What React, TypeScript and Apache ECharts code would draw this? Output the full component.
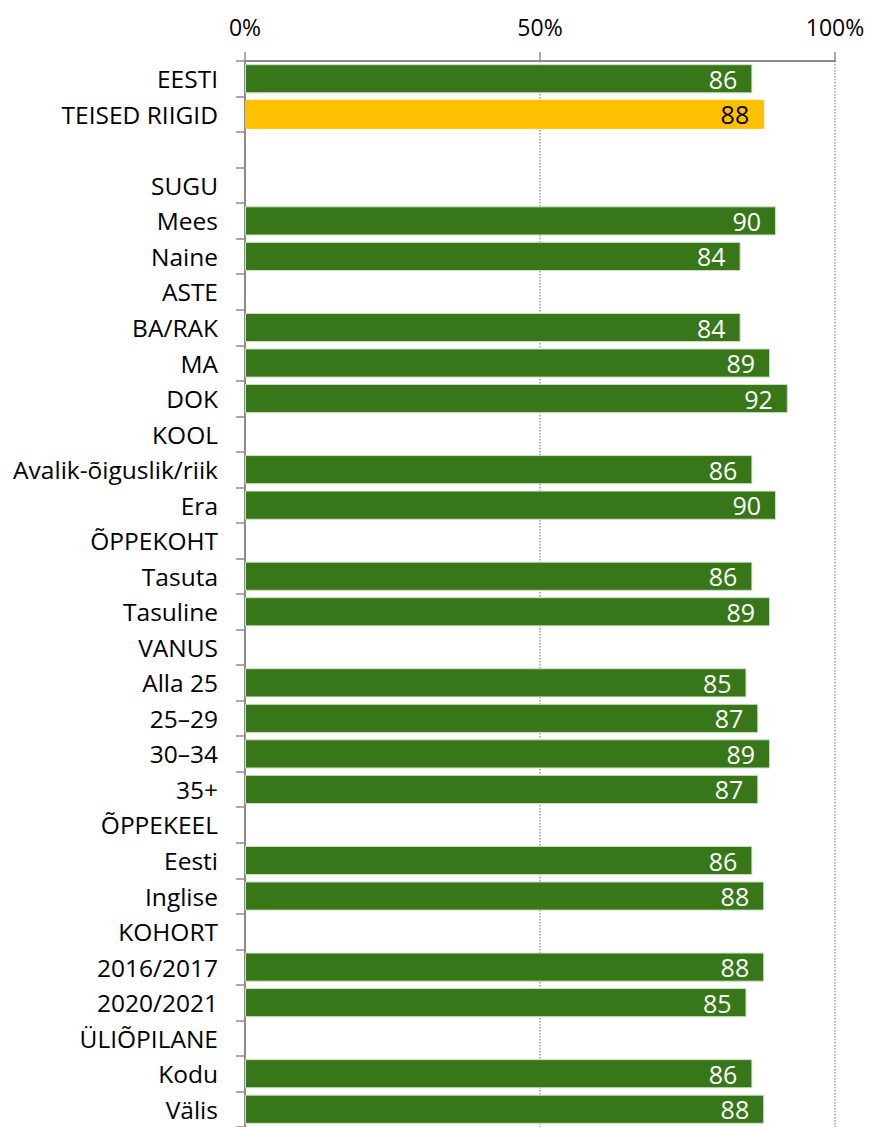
import React, { useEffect, useRef } from "react";
import * as echarts from "echarts";

const categories = [
  "EESTI", "TEISED RIIGID", "", "SUGU", "Mees", "Naine", "ASTE", "BA/RAK", "MA", "DOK",
  "KOOL", "Avalik-õiguslik/riik", "Era", "ÕPPEKOHT", "Tasuta", "Tasuline", "VANUS",
  "Alla 25", "25–29", "30–34", "35+", "ÕPPEKEEL", "Eesti", "Inglise", "KOHORT",
  "2016/2017", "2020/2021", "ÜLIÕPILANE", "Kodu", "Välis",
];
const values: (number | null)[] = [
  86, 88, null, null, 90, 84, null, 84, 89, 92,
  null, 86, 90, null, 86, 89, null,
  85, 87, 89, 87, null, 86, 88, null,
  88, 85, null, 86, 88,
];
const highlighted = ["TEISED RIIGID"];
const xTicks = [0, 50, 100];

const GREEN = "#38761a";
const YELLOW = "#ffc000";
const FONT = "'Open Sans', Lato, sans-serif";

export default function App() {
  const ref = useRef<HTMLDivElement>(null);
  useEffect(() => {
    if (!ref.current) return;
    const chart = echarts.init(ref.current, undefined, { renderer: "svg" });
    const data = values.map((v, i) => {
      const hl = highlighted.includes(categories[i]);
      return {
        value: v,
        itemStyle: {
          color: hl ? YELLOW : GREEN,
          borderColor: hl ? YELLOW : "#cfe0c2",
          borderWidth: 1,
        },
        label: { color: hl ? "#000000" : "#ffffff" },
      };
    });
    chart.setOption({
      animation: false,
      textStyle: { fontFamily: FONT },
      grid: { left: 245, top: 61, width: 590, height: 1068, containLabel: false },
      xAxis: {
        type: "value",
        position: "top",
        min: xTicks[0],
        max: xTicks[xTicks.length - 1],
        interval: 50,
        axisLine: { show: true, lineStyle: { color: "#8c8c8c", width: 2 } },
        axisTick: { show: true, length: 9, lineStyle: { color: "#8c8c8c", width: 1.5 } },
        axisLabel: {
          formatter: "{value}%",
          fontSize: 23,
          color: "#000000",
          fontFamily: FONT,
          margin: 23,
        },
        splitLine: {
          show: true,
          lineStyle: { color: "#9a9a9a", type: "dotted", width: 1.5 },
        },
      },
      yAxis: {
        type: "category",
        data: categories,
        inverse: true,
        axisLine: { show: true, lineStyle: { color: "#8c8c8c", width: 2 } },
        axisTick: { show: true, length: 9, lineStyle: { color: "#8c8c8c", width: 1.5 } },
        axisLabel: {
          fontSize: 24.5,
          color: "#000000",
          fontFamily: FONT,
          margin: 27,
          interval: 0,
        },
        splitLine: { show: false },
      },
      series: [
        {
          type: "bar",
          data,
          barCategoryGap: "18%",
          label: {
            show: true,
            position: "insideRight",
            distance: 15,
            fontSize: 25,
            fontFamily: FONT,
          },
        },
      ],
    });
    return () => chart.dispose();
  }, []);
  return (
    <div
      ref={ref}
      style={{ position: "fixed", left: 0, top: 0, width: 870, height: 1127, background: "#fff" }}
    />
  );
}
